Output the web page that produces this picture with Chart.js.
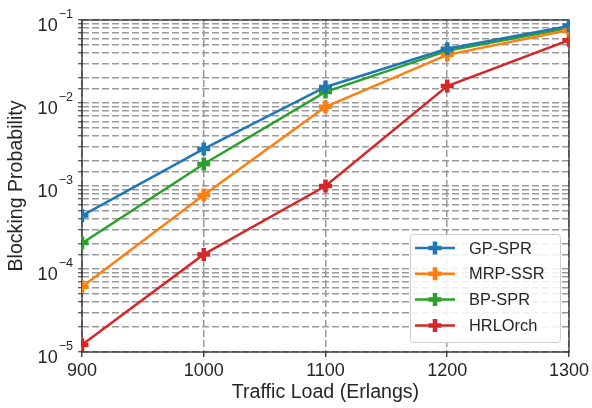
<!DOCTYPE html>
<html>
<head>
<meta charset="utf-8">
<script src="https://cdn.jsdelivr.net/npm/chart.js@4/dist/chart.umd.min.js"></script>
<style>
	html, body { margin: 0; padding: 0; background: #fff; }
	#wrap { width: 592px; height: 408px; }
</style>
</head>
<body>
<div id="wrap"><canvas id="canvas01" width="592" height="408"></canvas></div>
<script>
// data
const trafficLoad = [900, 1000, 1100, 1200, 1300];
const gpSpr = [4.4e-4, 2.8e-3, 1.56e-2, 4.5e-2, 8.5e-2];
const mrpSsr = [6.1e-5, 7.8e-4, 9.0e-3, 3.8e-2, 7.6e-2];
const bpSpr = [2.05e-4, 1.84e-3, 1.36e-2, 4.25e-2, 8.0e-2];
const hrlOrch = [1.22e-5, 1.5e-4, 1.0e-3, 1.6e-2, 5.7e-2];
const seriesNames = ['GP-SPR', 'MRP-SSR', 'BP-SPR', 'HRLOrch'];
const seriesColors = ['#1f77b4', '#ff7f0e', '#2ca02c', '#d62728'];
const yTickExp = [-5, -4, -3, -2, -1];

const FONT = "'Liberation Sans', Arial, sans-serif";

function mkSet(i, vals) {
	return {
		label: seriesNames[i],
		data: trafficLoad.map(function (x, k) { return { x: x, y: vals[k] }; }),
		borderColor: seriesColors[i],
		backgroundColor: seriesColors[i],
		borderWidth: 2.5,
		pointStyle: 'cross',
		pointRadius: 6.5,
		pointHoverRadius: 6.5,
		pointBorderWidth: 4.5,
		pointBorderColor: seriesColors[i],
		pointHoverBorderWidth: 4.5,
		tension: 0,
		clip: 0,
	};
}

// frame round the axes (all 4 spines)
const frame_axes = {
	id: 'frame_axes',
	beforeDatasetsDraw(chart) {
		const { ctx, chartArea: { left, top, right, bottom } } = chart;
		ctx.save();
		ctx.strokeStyle = '#262626';
		ctx.lineWidth = 1.25;
		ctx.setLineDash([]);
		ctx.strokeRect(left, top, right - left, bottom - top);
		ctx.restore();
	}
};

// 10^n tick labels with real superscript
const sup_labels = {
	id: 'sup_labels',
	afterDraw(chart) {
		const { ctx, scales: { y } } = chart;
		const xr = chart.chartArea.left - 9;
		ctx.save();
		ctx.fillStyle = '#262626';
		ctx.textBaseline = 'alphabetic';
		ctx.textAlign = 'left';
		yTickExp.forEach(function (e) {
			const py = y.getPixelForValue(Math.pow(10, e));
			const expTxt = '\u2212' + Math.abs(e);
			ctx.font = '12.6px ' + FONT;
			const ew = ctx.measureText(expTxt).width;
			ctx.font = '18px ' + FONT;
			const bw = ctx.measureText('10').width;
			const x0 = xr - ew - bw - 1;
			ctx.fillText('10', x0, py + 10.5);
			ctx.font = '12.6px ' + FONT;
			ctx.fillText(expTxt, x0 + bw + 1, py - 2);
		});
		ctx.restore();
	}
};

// legend inside plot, lower right, line + marker
const legend_in = {
	id: 'legend_in',
	afterDraw(chart) {
		const { ctx, chartArea } = chart;
		const bw = 150, bh = 108;
		const bx = chartArea.right - 9 - bw;
		const by = chartArea.bottom - 10 - bh;
		ctx.save();
		ctx.fillStyle = 'rgba(255,255,255,0.85)';
		ctx.strokeStyle = '#cccccc';
		ctx.lineWidth = 1;
		ctx.beginPath();
		ctx.roundRect(bx + 0.5, by + 0.5, bw, bh, 3);
		ctx.fill();
		ctx.stroke();
		chart.data.datasets.forEach(function (ds, i) {
			const cy = by + 14 + i * 25.8;
			ctx.strokeStyle = ds.borderColor;
			ctx.lineWidth = 2.5;
			ctx.beginPath();
			ctx.moveTo(bx + 5, cy);
			ctx.lineTo(bx + 45, cy);
			ctx.stroke();
			ctx.lineWidth = 4.5;
			ctx.beginPath();
			ctx.moveTo(bx + 25 - 6.5, cy);
			ctx.lineTo(bx + 25 + 6.5, cy);
			ctx.moveTo(bx + 25, cy - 6.5);
			ctx.lineTo(bx + 25, cy + 6.5);
			ctx.stroke();
			ctx.fillStyle = '#262626';
			ctx.font = '16.4px ' + FONT;
			ctx.textBaseline = 'middle';
			ctx.fillText(ds.label, bx + 59, cy + 1);
		});
		ctx.restore();
	}
};

const chartData = {
	datasets: [
		mkSet(0, gpSpr),
		mkSet(1, mrpSsr),
		mkSet(2, bpSpr),
		mkSet(3, hrlOrch),
	]
};

const config01 = {
	type: 'line',
	data: chartData,
	options: {
		responsive: false,
		animation: false,
		events: [],
		layout: {
			padding: { left: 0, top: 20, right: 21, bottom: 0 },
		},
		plugins: {
			legend: { display: false },
			tooltip: { enabled: false },
			title: { display: false },
		},
		scales: {
			x: {
				type: 'linear',
				min: 900,
				max: 1300,
				afterFit: function (s) { s.height = 56; },
				ticks: {
					stepSize: 100,
					color: '#262626',
					padding: 3,
					font: { family: FONT, size: 18 },
					maxRotation: 0,
					callback: function (val) { return String(val); },
				},
				grid: {
					color: '#999999',
					lineWidth: 1.5,
					drawTicks: true,
					tickLength: 5,
					tickColor: '#262626',
					tickWidth: 1.25,
					tickBorderDash: [],
				},
				border: { display: false, dash: [7, 3] },
				title: {
					display: true,
					text: 'Traffic Load (Erlangs)',
					color: '#262626',
					font: { family: FONT, size: 19.6 },
					padding: { top: 0, bottom: 4 },
				},
			},
			y: {
				type: 'logarithmic',
				min: 1e-5,
				max: 1e-1,
				afterFit: function (s) { s.width = 82; },
				ticks: {
					autoSkip: false,
					callback: function () { return ''; },
					font: { family: FONT, size: 18 },
				},
				grid: {
					color: '#999999',
					lineWidth: 1.5,
					drawTicks: true,
					tickLength: 4,
					tickColor: '#262626',
					tickWidth: 1,
					tickBorderDash: [],
				},
				border: { display: false, dash: [7, 3] },
				title: {
					display: true,
					text: 'Blocking Probability',
					color: '#262626',
					font: { family: FONT, size: 19.6 },
					padding: { top: 5, bottom: 0 },
				},
			},
		},
	},
	plugins: [frame_axes, sup_labels, legend_in],
};

var ctx01 = document.getElementById('canvas01').getContext('2d');
var graf01 = new Chart(ctx01, config01);
</script>
</body>
</html>
